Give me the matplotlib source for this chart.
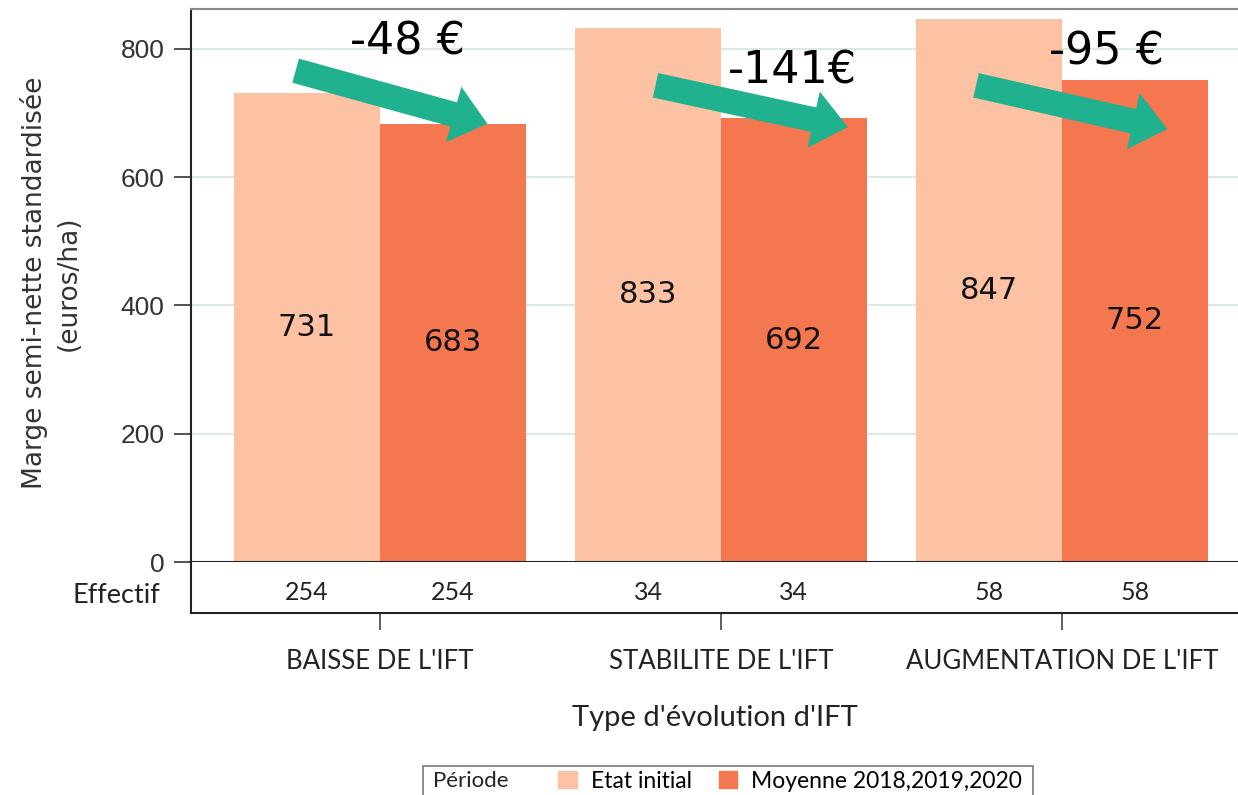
import numpy as np
import matplotlib
matplotlib.use('Agg')
import matplotlib.pyplot as plt
from matplotlib.patches import Patch, Rectangle, FancyArrowPatch

categories = ["BAISSE DE L'IFT", "STABILITE DE L'IFT", "AUGMENTATION DE L'IFT"]
etat_initial = [731, 833, 847]
moyenne = [683, 692, 752]
effectif = [254, 34, 58]
ecarts = ['-48 €', '-141€', '-95 €']
series_names = ['Etat initial', 'Moyenne 2018,2019,2020']

light = '#fdc1a3'
dark = '#f5774f'
green = '#20b18f'

fig = plt.figure(figsize=(12.38, 7.95), dpi=100)
ax = fig.add_axes([191/1238, 1-562/795, 1-191/1238, (562-9)/795])
axe = fig.add_axes([191/1238, 1-613/795, 1-191/1238, (613-562)/795])

x = np.arange(len(categories))
w = 0.428
ax.bar(x - w/2, etat_initial, w, color=light, zorder=2)
ax.bar(x + w/2, moyenne, w, color=dark, zorder=2)

for xi, v1, v2 in zip(x, etat_initial, moyenne):
    ax.text(xi - w/2, v1/2, str(v1), ha='center', va='center', fontsize=22, color='#111111', zorder=3)
    ax.text(xi + w/2, v2/2, str(v2), ha='center', va='center', fontsize=22, color='#111111', zorder=3)

# fleches + ecarts
arrow_from = [(-0.255, 767), (-0.20, 744), (-0.26, 744)]
arrow_to = [(0.323, 682), (0.38, 677), (0.317, 674)]
label_pos = [(0.08, 810), (0.21, 765), (0.13, 795)]
for xi, a, b, lab, lp in zip(x, arrow_from, arrow_to, ecarts, label_pos):
    arr = FancyArrowPatch((xi + a[0], a[1]), (xi + b[0], b[1]),
                          arrowstyle='simple,head_width=2.3,head_length=1.4,tail_width=1.0',
                          mutation_scale=18, color=green, lw=0, zorder=4)
    ax.add_patch(arr)
    ax.text(xi + lp[0], lp[1], lab, ha='center', va='center', fontsize=32, color='black', zorder=5)

ax.set_xlim(-0.554, 2.516)
ax.set_ylim(0, 862)
ax.set_yticks([0, 200, 400, 600, 800])
ax.set_yticklabels(['0', '200', '400', '600', '800'], fontsize=19, family='Liberation Sans', color='#333333')
ax.tick_params(axis='y', length=12, width=1.2, color='#333333', pad=7)
ax.set_xticks([])
ax.yaxis.grid(True, color='#dde7e6', lw=1.5, zorder=0)
ax.set_axisbelow(True)
ax.spines['right'].set_visible(False)
ax.spines['top'].set_color('#888888')
ax.spines['top'].set_linewidth(1.5)
for s in ['left', 'bottom']:
    ax.spines[s].set_color('#222222')
    ax.spines[s].set_linewidth(1.5)
fig.text(51/1238, 1-283/795, 'Marge semi-nette standardisée\n(euros/ha)', rotation=90,
         ha='center', va='center', fontsize=19, color='#333333', linespacing=1.4)

# panneau effectif
axe.set_xlim(ax.get_xlim())
axe.set_ylim(0, 1)
for xi, n in zip(x, effectif):
    axe.text(xi - w/2, 0.4, str(n), ha='center', va='center', fontsize=18, family='Lato', color='#222222')
    axe.text(xi + w/2, 0.4, str(n), ha='center', va='center', fontsize=18, family='Lato', color='#222222')
axe.set_yticks([0.4])
axe.set_yticklabels(['Effectif'], fontsize=19.5, family='Lato', color='#222222')
axe.tick_params(axis='y', length=0, pad=22)
axe.set_xticks(x)
axe.set_xticklabels(categories, fontsize=18.5, family='Lato', color='#222222')
axe.tick_params(axis='x', length=12, width=1.2, color='#444444', pad=14)
for s in ['top', 'right']:
    axe.spines[s].set_visible(False)
for s in ['left', 'bottom']:
    axe.spines[s].set_linewidth(1.5)
    axe.spines[s].set_color('#222222')
axe.set_xlabel("Type d'évolution d'IFT", fontsize=21, family='Lato', color='#222222', labelpad=22)

# legende
fig.patches.append(Rectangle((423/1238, -0.02), (1033-423)/1238, (0.02 + 1-766/795),
                             transform=fig.transFigure, fill=False, edgecolor='#777777', lw=1.2))
fig.text(433/1238, 1-781/795, 'Période', fontsize=16, family='Lato', color='#222222', va='center')
handles = [Patch(color=light), Patch(color=dark)]
fig.legend(handles, series_names, ncol=2, loc='center left', frameon=False,
           bbox_to_anchor=(547/1238, 1-781/795), prop={'family': 'Lato', 'size': 16.5},
           handlelength=0.8, handleheight=0.8, handletextpad=0.6, columnspacing=1.2, borderpad=0)

fig.savefig('out.png', dpi=100)
